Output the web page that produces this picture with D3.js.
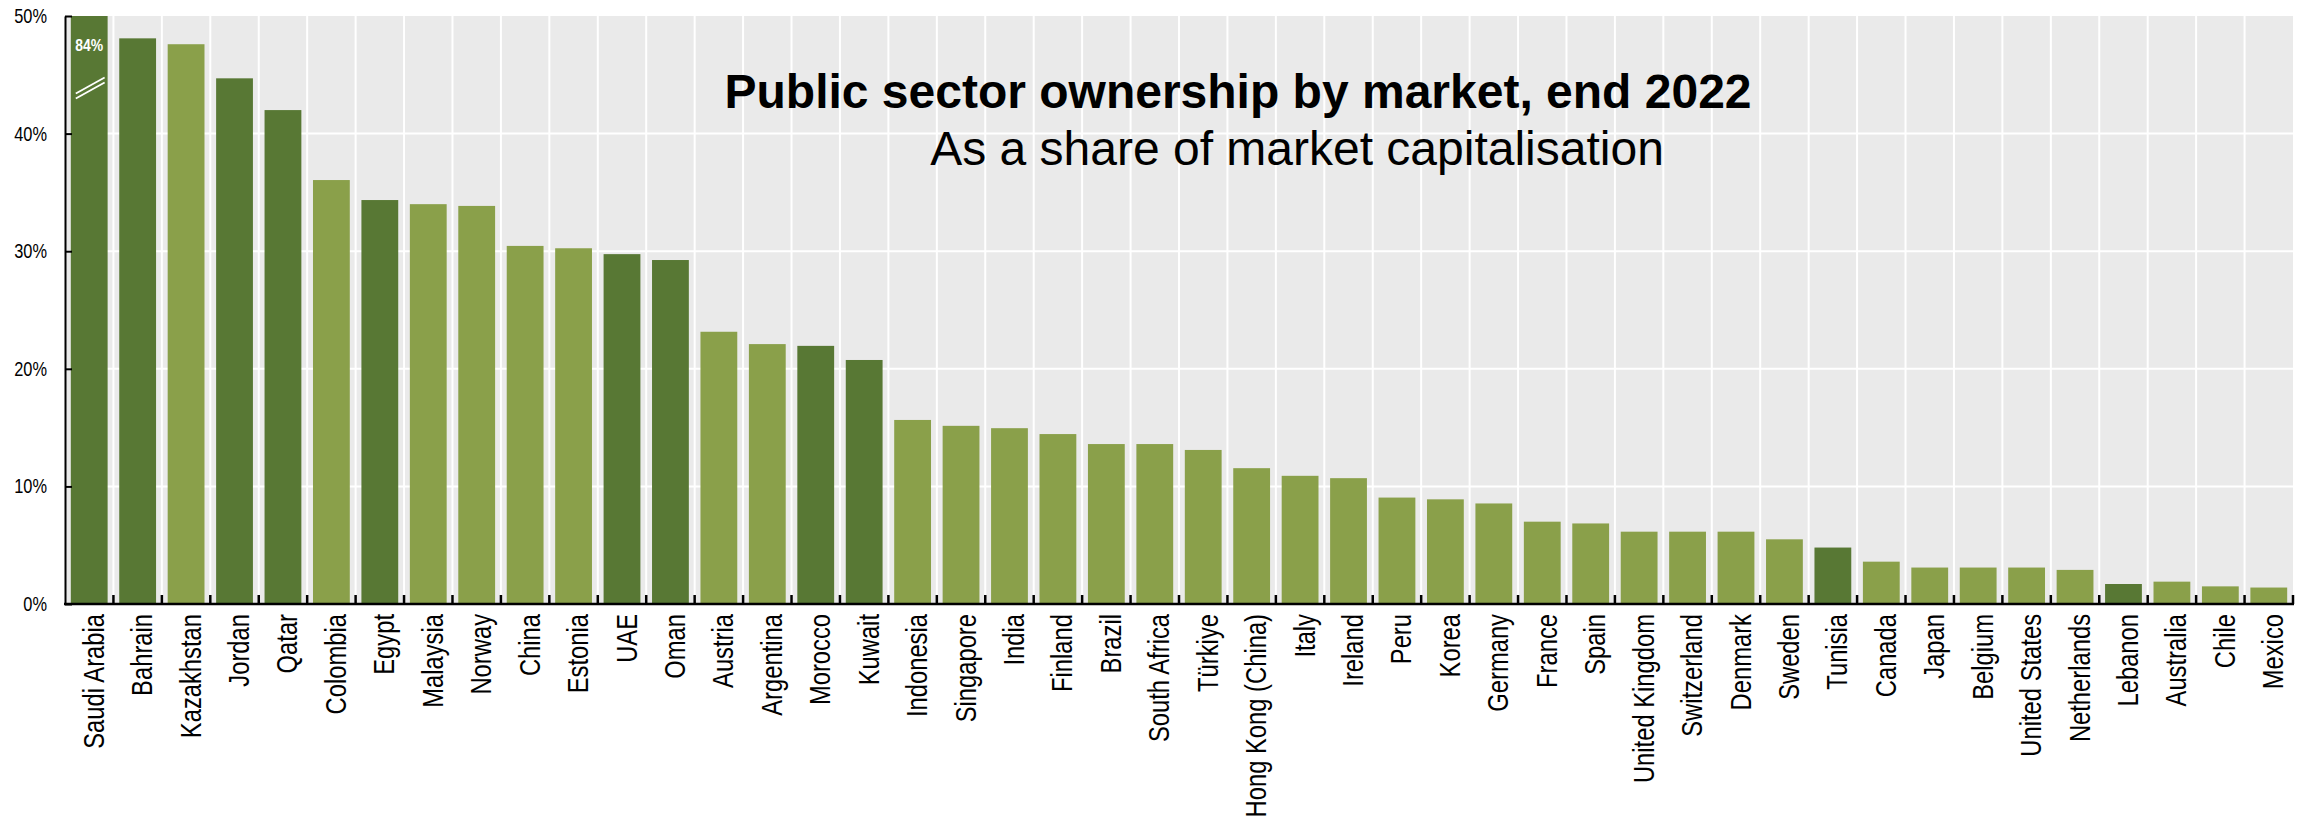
<!DOCTYPE html>
<html>
<head>
<meta charset="utf-8">
<script src="https://cdn.jsdelivr.net/npm/d3@7"></script>
<style>
    body { margin: 0; background: #fff; }
    svg { display: block; }
</style>
</head>
<body>
<div id="chart"></div>
<script>
var markets = ["Saudi Arabia", "Bahrain", "Kazakhstan", "Jordan", "Qatar", "Colombia", "Egypt",
    "Malaysia", "Norway", "China", "Estonia", "UAE", "Oman", "Austria", "Argentina", "Morocco",
    "Kuwait", "Indonesia", "Singapore", "India", "Finland", "Brazil", "South Africa", "Türkiye",
    "Hong Kong (China)", "Italy", "Ireland", "Peru", "Korea", "Germany", "France", "Spain",
    "United Kingdom", "Switzerland", "Denmark", "Sweden", "Tunisia", "Canada", "Japan", "Belgium",
    "United States", "Netherlands", "Lebanon", "Australia", "Chile", "Mexico"];

// public sector ownership, % of market capitalisation
var ownership = [84, 48.1, 47.6, 44.7, 42.0, 36.05, 34.35,
    34.0, 33.85, 30.45, 30.25, 29.75, 29.25, 23.15, 22.1, 21.95,
    20.75, 15.65, 15.15, 14.95, 14.45, 13.6, 13.6, 13.1,
    11.55, 10.9, 10.7, 9.05, 8.9, 8.55, 7.0, 6.85,
    6.15, 6.15, 6.15, 5.5, 4.8, 3.6, 3.1, 3.1,
    3.1, 2.9, 1.7, 1.9, 1.5, 1.4];

// markets drawn in the darker green
var highlighted = ["Saudi Arabia", "Bahrain", "Jordan", "Qatar", "Egypt", "UAE", "Oman",
    "Morocco", "Kuwait", "Tunisia", "Lebanon"];

var yTicks = [0, 10, 20, 30, 40, 50];
var yGrid = [10, 20, 30, 40];

var titleText = "Public sector ownership by market, end 2022",
    subtitleText = "As a share of market capitalisation";

(function () {
    'use strict';
    var svg, x, y, boundaries, yAxis, xAxis, cut,
        width = 2307,
        height = 824,
        margin = {top: 16, right: 14, bottom: 220, left: 65},
        yMax = yTicks[yTicks.length - 1],
        font = "'Liberation Sans', Arial, sans-serif",
        // no narrow face installed, so squeeze the regular one
        squeeze = 0.82,
        colors = {dark: "#587834", light: "#8aa04a", bg: "#eaeaea"},
        data = markets.map(function (m, i) {
            return {market: m, value: ownership[i], dark: highlighted.indexOf(m) >= 0};
        });

    x = d3.scaleBand()
        .domain(markets)
        .range([margin.left, width - margin.right])
        .paddingInner(0.24)
        .paddingOuter(0.12);

    y = d3.scaleLinear()
        .domain([0, yMax])
        .range([height - margin.bottom, margin.top]);

    // edges between categories (gridlines and ticks sit there)
    boundaries = markets.map(function (m) {
        return x(m) + x.bandwidth() + (x.step() - x.bandwidth()) / 2;
    });

    svg = d3.select("#chart").append("svg")
        .attr("width", width)
        .attr("height", height);

    svg.append("rect")
        .attr("x", x.range()[0])
        .attr("y", y(yMax))
        .attr("width", x.range()[1] - x.range()[0])
        .attr("height", y(0) - y(yMax))
        .attr("fill", colors.bg);

    // white gridlines
    svg.append("g").selectAll("line.hgrid")
        .data(yGrid)
        .enter().append("line")
        .attr("class", "hgrid")
        .attr("x1", x.range()[0])
        .attr("x2", x.range()[1])
        .attr("y1", y)
        .attr("y2", y)
        .attr("stroke", "#fff")
        .attr("stroke-width", 2);

    svg.append("g").selectAll("line.vgrid")
        .data(boundaries.slice(0, -1))
        .enter().append("line")
        .attr("class", "vgrid")
        .attr("x1", function (d) { return d; })
        .attr("x2", function (d) { return d; })
        .attr("y1", y(0))
        .attr("y2", y(yMax))
        .attr("stroke", "#fff")
        .attr("stroke-width", 2);

    // Title block
    svg.append("text")
        .attr("x", 1238)
        .attr("y", 108)
        .attr("text-anchor", "middle")
        .style("font-family", font)
        .style("font-weight", "bold")
        .style("font-size", "48px")
        .style("fill", "#000")
        .text(titleText);

    svg.append("text")
        .attr("x", 1297)
        .attr("y", 165)
        .attr("text-anchor", "middle")
        .style("font-family", font)
        .style("font-size", "48px")
        .style("fill", "#000")
        .text(subtitleText);

    svg.append("g").selectAll("rect.bar")
        .data(data)
        .enter().append("rect")
        .attr("class", "bar")
        .attr("x", function (d) { return x(d.market); })
        .attr("width", x.bandwidth())
        .attr("y", function (d) { return y(Math.min(d.value, yMax)); })
        .attr("height", function (d) { return y(0) - y(Math.min(d.value, yMax)); })
        .attr("fill", function (d) { return d.dark ? colors.dark : colors.light; });

    // bars running past the top of the axis: value label and break marks
    cut = svg.append("g").selectAll("g.cut")
        .data(data.filter(function (d) { return d.value > yMax; }))
        .enter().append("g")
        .attr("class", "cut")
        .attr("transform", function (d) {
            return "translate(" + x(d.market) + "," + y(yMax) + ")";
        });

    cut.append("text")
        .attr("transform", "scale(" + squeeze + ",1)")
        .attr("x", x.bandwidth() / 2 / squeeze)
        .attr("y", 35)
        .attr("text-anchor", "middle")
        .style("font-family", font)
        .style("font-weight", "bold")
        .style("font-size", "17px")
        .style("fill", "#fff")
        .text(function (d) { return Math.round(d.value) + "%"; });

    cut.selectAll("line")
        .data([-2.5, 2.5])
        .enter().append("line")
        .attr("x1", 5)
        .attr("x2", x.bandwidth() - 3)
        .attr("y1", function (o) { return 80 + o; })
        .attr("y2", function (o) { return 64 + o; })
        .attr("stroke", "#fff")
        .attr("stroke-width", 1.8);

    // y axis, ticks pointing inwards
    yAxis = svg.append("g")
        .attr("transform", "translate(" + x.range()[0] + ",0)")
        .call(d3.axisLeft(y)
            .tickValues(yTicks)
            .tickSize(-7)
            .tickSizeOuter(0)
            .tickFormat(function (d) { return d + "%"; }));

    yAxis.select(".domain").attr("stroke", "#000").attr("stroke-width", 2);
    yAxis.selectAll(".tick line").attr("stroke", "#000").attr("stroke-width", 2);
    yAxis.selectAll(".tick text")
        .attr("transform", "scale(" + squeeze + ",1)")
        .attr("x", -18 / squeeze)
        .style("font-family", font)
        .style("font-size", "20px")
        .style("fill", "#000");

    // x axis: labels at band centres, ticks on the edges
    xAxis = svg.append("g")
        .attr("transform", "translate(0," + y(0) + ")")
        .call(d3.axisBottom(x).tickSize(0).tickSizeOuter(0));

    xAxis.select(".domain").remove();
    xAxis.selectAll(".tick text")
        .attr("transform", "rotate(-90) scale(" + squeeze + ",1)")
        .attr("x", -10 / squeeze)
        .attr("y", 0)
        .attr("dy", "0.5em")
        .attr("text-anchor", "end")
        .style("font-family", font)
        .style("font-size", "29px")
        .style("fill", "#000");

    xAxis.selectAll("line.edge")
        .data(boundaries)
        .enter().append("line")
        .attr("class", "edge")
        .attr("x1", function (d) { return d; })
        .attr("x2", function (d) { return d; })
        .attr("y1", 0)
        .attr("y2", -9)
        .attr("stroke", "#000")
        .attr("stroke-width", 2.5);

    xAxis.append("line")
        .attr("x1", x.range()[0] - 1)
        .attr("x2", x.range()[1] + 1)
        .attr("stroke", "#000")
        .attr("stroke-width", 2.5);
}());
</script>
</body>
</html>
